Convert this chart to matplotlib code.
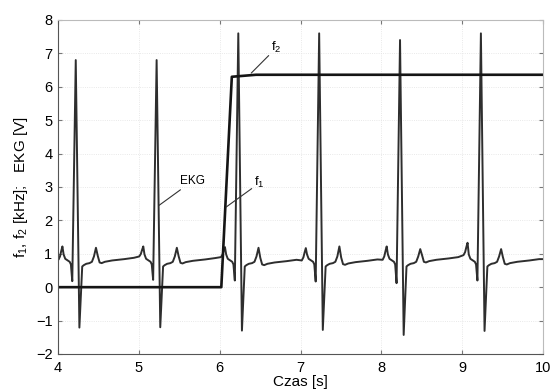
import numpy as np
import matplotlib
matplotlib.use("Agg")
import matplotlib.pyplot as plt

plt.rcParams['font.family'] = ['Liberation Sans', 'DejaVu Sans']
plt.rcParams['mathtext.fontset'] = 'custom'
plt.rcParams['mathtext.rm'] = 'Liberation Sans'
plt.rcParams['mathtext.it'] = 'Liberation Sans:italic'

# ---- data ----
# per-beat features of the EKG trace
r_times = [4.22, 5.22, 6.23, 7.23, 8.23, 9.23]      # R-peak times [s]
r_peak = [6.8, 6.8, 7.6, 7.6, 7.4, 7.6]             # R amplitude [V]
s_min = [-1.21, -1.20, -1.30, -1.28, -1.43, -1.31]  # S trough [V]
q_dip = [0.18, 0.22, 0.20, 0.17, 0.12, 0.20]        # Q dip [V]
p_peak = [1.22, 1.22, 1.20, 1.17, 1.22, 1.33]       # P wave [V]
t_peak = [1.18, 1.18, 1.18, 1.22, 1.14, 1.14]       # T wave [V]
base_pre = [0.82, 0.92, 0.90, 0.80, 0.82, 0.96]     # baseline before P [V]
start_level = 0.85
end_time = 10.0
end_level = 0.84

# beat shape: time offsets from R and levels read from one beat
off_pre = [-0.215, -0.195, -0.18]
frac_pre = [0.0, 0.25, 0.65]          # fraction of the P rise
off_p = -0.165
off_after_p = [-0.15, -0.13, -0.10, -0.075, -0.06]
lvl_after_p = [0.98, 0.85, 0.80, 0.76, 0.68]
off_q = -0.043
off_r = 0.0
off_s = 0.045
off_st = [0.08, 0.1, 0.13, 0.17, 0.2, 0.225]
lvl_st = [0.62, 0.66, 0.70, 0.72, 0.76, 0.92]
off_t = 0.25
off_after_t = [0.272, 0.295, 0.32, 0.36, 0.45, 0.6, 0.72]
lvl_after_t = [0.92, 0.72, 0.70, 0.74, 0.78, 0.82, 0.86]

# frequency trace f1 -> f2
f_time = [4.0, 6.02, 6.15, 6.45, 10.0]
f_val = [0.0, 0.0, 6.30, 6.36, 6.36]

# ---- build EKG trace from the feature lists ----
t_pts, v_pts = [4.0], [start_level]
for i, tr in enumerate(r_times):
    b = base_pre[i]
    for o, fr in zip(off_pre, frac_pre):
        if tr + o > 4.0:
            t_pts.append(tr + o)
            v_pts.append(b + fr * (p_peak[i] - b))
    t_pts.append(tr + off_p); v_pts.append(p_peak[i])
    for o, lv in zip(off_after_p, lvl_after_p):
        t_pts.append(tr + o); v_pts.append(lv)
    t_pts.append(tr + off_q); v_pts.append(q_dip[i])
    t_pts.append(tr + off_r); v_pts.append(r_peak[i])
    t_pts.append(tr + off_s); v_pts.append(s_min[i])
    for o, lv in zip(off_st, lvl_st):
        t_pts.append(tr + o); v_pts.append(lv)
    t_pts.append(tr + off_t); v_pts.append(t_peak[i])
    nxt = base_pre[i + 1] if i + 1 < len(base_pre) else end_level
    for o, lv in zip(off_after_t, lvl_after_t):
        t_pts.append(tr + o); v_pts.append(lv + (nxt - 0.88) * 0.5)
t_pts.append(end_time); v_pts.append(end_level)

# ---- figure ----
fig = plt.figure(figsize=(5.52, 3.92), dpi=100)
ax = fig.add_axes([0.105, 0.097, 0.879, 0.852])

ax.plot(t_pts, v_pts, color='#2e2e2e', lw=1.4, solid_joinstyle='round')
ax.plot(f_time, f_val, color='#151515', lw=1.9)

ax.set_xlim(4, 10)
ax.set_ylim(-2, 8)
ax.set_xticks([4, 5, 6, 7, 8, 9, 10])
ax.set_yticks(range(-2, 9))
ax.grid(True, linestyle=':', color='#e2e2e2', lw=0.6)
ax.tick_params(direction='in', length=3, labelsize=10.5, colors='#777777',
               labelcolor='black', top=True, right=True)
ax.tick_params(axis='x', pad=5)
ax.tick_params(axis='y', pad=4)
for s in ['left', 'bottom']:
    ax.spines[s].set_color('#555555')
for s in ['top', 'right']:
    ax.spines[s].set_color('#bbbbbb')

ax.set_xlabel('Czas [s]', fontsize=11)
ax.xaxis.set_label_coords(0.5, -0.064)
ax.set_ylabel(r'f$_\mathregular{1}$, f$_\mathregular{2}$ [kHz];   EKG [V]', fontsize=11)
ax.yaxis.set_label_coords(-0.058, 0.5)

# annotations
arrow = dict(arrowstyle='-', color='#333333', lw=0.8, shrinkA=0, shrinkB=0)
ax.annotate('EKG', xy=(5.25, 2.45), xytext=(5.51, 3.0), fontsize=8.5,
            ha='left', va='bottom', arrowprops=arrow)
ax.annotate(r'f$_\mathregular{1}$', xy=(6.08, 2.4), xytext=(6.43, 2.9), fontsize=9.5,
            ha='left', va='bottom', arrowprops=arrow)
ax.annotate(r'f$_\mathregular{2}$', xy=(6.39, 6.41), xytext=(6.64, 6.95), fontsize=9.5,
            ha='left', va='bottom', arrowprops=arrow)

fig.savefig('out.png', dpi=100)
